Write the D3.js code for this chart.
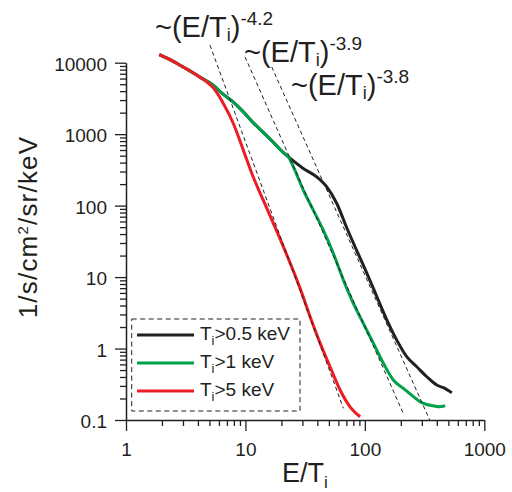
<!DOCTYPE html>
<html>
<head>
<meta charset="utf-8">
<title>Spectra vs E/Ti</title>
<script src="https://d3js.org/d3.v7.min.js"></script>
<style>
body { margin: 0; background: #fff; }
text { font-family: "Liberation Sans", Arial, sans-serif; fill: #231f20; }
</style>
</head>
<body>
<script>
// spectra (E/Ti, 1/s/cm2/sr/keV)
var xBlack = [1.9, 2.4, 2.83, 3.4, 4.17, 5.38, 6.53, 7.92, 9.6, 11.6, 14.1, 17.1, 20.8, 22.9, 30.5, 39.5, 48.0, 58.2, 70.5, 85.5, 104, 126, 153, 185, 224, 272, 330, 400, 454, 535];
var yBlack = [13000, 10800, 9230, 7750, 6270, 4840, 3600, 2800, 2050, 1450, 1060, 770, 550, 480, 331, 253, 183, 107, 49, 23.5, 11.3, 5.31, 2.50, 1.31, 0.769, 0.556, 0.403, 0.309, 0.283, 0.241];

var xGreen = [1.9, 2.4, 2.83, 3.4, 4.17, 5.38, 6.53, 7.92, 9.6, 11.6, 14.1, 17.1, 20.8, 22.9, 25.2, 30.5, 37.0, 44.9, 54.5, 66.1, 80.1, 97.1, 118, 143, 173, 210, 255, 290, 330, 380, 420, 470];
var yGreen = [13000, 10800, 9230, 7750, 6270, 4840, 3600, 2800, 2050, 1450, 1060, 770, 550, 480, 349, 165, 86.5, 45.4, 21.4, 9.08, 4.29, 2.25, 1.18, 0.621, 0.363, 0.277, 0.212, 0.180, 0.165, 0.157, 0.153, 0.158];

var xRed = [1.9, 2.4, 2.83, 3.4, 4.17, 4.8, 5.38, 6.53, 7.92, 9.6, 11.6, 14.1, 17.1, 20.8, 28.7, 34.8, 42.2, 51.1, 62.0, 75.2, 91.2];
var yRed = [13000, 10800, 9230, 7750, 6270, 5300, 4450, 2690, 1410, 597, 253, 119, 56.9, 26.5, 6.95, 2.79, 1.19, 0.556, 0.263, 0.153, 0.111];

var seriesNames = [">0.5 keV", ">1 keV", ">5 keV"];
var seriesColors = ["#231f20", "#00a14b", "#ed1c24"];

// power-law guide lines, end points
var fitExponents = ["-4.2", "-3.9", "-3.8"];
var fitX = [[5.05, 66.1], [9.92, 211], [16.6, 352]];
var fitY = [[17580, 0.146], [12060, 0.121], [8730, 0.097]];

var xTicks = [1, 10, 100, 1000];
var yTicks = [0.1, 1, 10, 100, 1000, 10000];

var w = 512, h = 492;
var svg = d3.select("body").append("svg")
    .attr("width", w)
    .attr("height", h);

var x = d3.scaleLog().domain([1, 1000]).range([126, 484.3]);
var y = d3.scaleLog().domain([0.1, 10000]).range([420, 62.7]);

var fmt = function(d) { return String(d); };

// minor ticks first, then major ticks with labels
svg.append("g")
    .attr("transform", "translate(0,420)")
    .call(d3.axisBottom(x).tickValues(x.ticks().filter(function(d) { return xTicks.indexOf(d) < 0; }))
        .tickSize(6).tickSizeOuter(0).tickFormat(""))
    .call(function(g) { g.select(".domain").remove(); });
svg.append("g")
    .attr("transform", "translate(126,0)")
    .call(d3.axisLeft(y).tickValues(y.ticks().filter(function(d) { return yTicks.indexOf(+d.toPrecision(6)) < 0; }))
        .tickSize(6).tickSizeOuter(0).tickFormat(""))
    .call(function(g) { g.select(".domain").remove(); });

var xAxis = svg.append("g")
    .attr("transform", "translate(0,420)")
    .call(d3.axisBottom(x).tickValues(xTicks).tickFormat(fmt).tickSize(11).tickSizeOuter(0).tickPadding(12));
var yAxis = svg.append("g")
    .attr("transform", "translate(126,0)")
    .call(d3.axisLeft(y).tickValues(yTicks).tickFormat(fmt).tickSize(11).tickSizeOuter(0).tickPadding(8));

svg.selectAll(".tick line").attr("stroke", "#231f20").attr("stroke-width", 1.3);
svg.selectAll(".domain").attr("stroke", "#231f20").attr("stroke-width", 1.5);
xAxis.selectAll("text").attr("font-size", 19).attr("font-family", null).attr("fill", "#231f20");
yAxis.selectAll("text").attr("font-size", 19).attr("font-family", null).attr("fill", "#231f20").attr("dy", "0.4em");

// curves
var line = d3.line()
    .x(function(d) { return x(d[0]); })
    .y(function(d) { return y(d[1]); })
    .curve(d3.curveMonotoneX);

var series = [d3.zip(xBlack, yBlack), d3.zip(xGreen, yGreen), d3.zip(xRed, yRed)];
svg.selectAll(".curve")
    .data(series)
    .enter().append("path")
    .attr("class", "curve")
    .attr("d", line)
    .attr("fill", "none")
    .attr("stroke", function(d, i) { return seriesColors[i]; })
    .attr("stroke-width", 3)
    .attr("stroke-linejoin", "round");

// dashed power-law lines
svg.selectAll(".fit")
    .data(fitX)
    .enter().append("path")
    .attr("class", "fit")
    .attr("d", function(d, i) { return d3.line().x(function(p) { return x(p[0]); }).y(function(p) { return y(p[1]); })(d3.zip(d, fitY[i])); })
    .attr("fill", "none")
    .attr("stroke", "#231f20")
    .attr("stroke-width", 1)
    .attr("stroke-dasharray", "4,3");

// labels for the guide lines
var fitPos = [[155, 37], [244, 62], [291, 95]];
fitExponents.forEach(function(e, i) {
    var t = svg.append("text")
        .attr("x", fitPos[i][0])
        .attr("y", fitPos[i][1])
        .attr("font-size", 29);
    t.append("tspan").text("~(E/T");
    t.append("tspan").attr("font-size", 18).attr("dy", 4).text("i");
    t.append("tspan").attr("dy", -4).text(")");
    t.append("tspan").attr("font-size", 19).attr("dy", -12).text(e);
});

// legend
svg.append("rect")
    .attr("x", 131.7).attr("y", 319)
    .attr("width", 168.3).attr("height", 92)
    .attr("fill", "none")
    .attr("stroke", "#231f20")
    .attr("stroke-width", 1)
    .attr("stroke-dasharray", "5,3.5");

var leg = svg.selectAll(".leg")
    .data(seriesNames)
    .enter().append("g")
    .attr("class", "leg")
    .attr("transform", function(d, i) { return "translate(0," + (335 + i * 28) + ")"; });
leg.append("line")
    .attr("x1", 137).attr("x2", 194)
    .attr("stroke", function(d, i) { return seriesColors[i]; })
    .attr("stroke-width", 3);
var lt = leg.append("text").attr("x", 200).attr("y", 5).attr("font-size", 19);
lt.append("tspan").text("T");
lt.append("tspan").attr("font-size", 13).attr("dy", 5).text("i");
lt.append("tspan").attr("dy", -5).text(function(d) { return d; });

// axis titles
var xt = svg.append("text").attr("x", 282).attr("y", 482).attr("font-size", 27);
xt.append("tspan").text("E/T");
xt.append("tspan").attr("font-size", 17).attr("dy", 6).text("i");

var yt = svg.append("text")
    .attr("transform", "translate(36.5,227) rotate(-90)")
    .attr("text-anchor", "middle")
    .attr("font-size", 26)
    .attr("letter-spacing", 1.2);
yt.append("tspan").text("1/s/cm");
yt.append("tspan").attr("font-size", 15).attr("dy", -9).text("2");
yt.append("tspan").attr("dy", 9).text("/sr/keV");
</script>
</body>
</html>
